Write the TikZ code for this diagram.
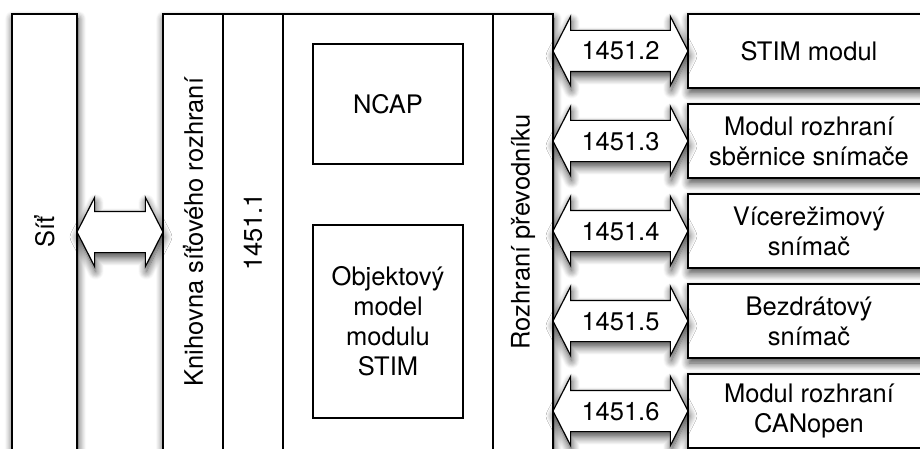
\documentclass[tikz,border=0pt]{standalone}
\usepackage{fontspec}
\setmainfont{TeX Gyre Heros}
\usetikzlibrary{shapes.arrows, positioning, calc, shadows.blur}

\begin{document}
\begin{tikzpicture}[
    x=1pt, y=1pt,
    font=\fontsize{25.5}{30}\selectfont,
    node distance=16pt and 0pt,
    box/.style={rectangle, draw, fill=white, line width=1.2pt, outer sep=0pt, inner sep=0pt, align=center},
    soft/.style={blur shadow={shadow xshift=1pt, shadow yshift=-5pt, shadow blur radius=8pt, shadow blur steps=10, shadow opacity=75}},
    tall/.style={box, minimum width=60pt, minimum height=436pt},
    dev/.style={box, soft, minimum width=242pt, minimum height=74pt},
    inbox/.style={box, minimum width=150pt},
    link/.style={double arrow, draw, fill=white, soft, line width=1.2pt, outer sep=0pt, inner sep=0pt, double arrow head extend=14pt, double arrow tip angle=126, text height=29pt, text depth=11pt}
]
\clip (0,0) rectangle (920,448);

\node [tall, soft, minimum width=65pt] (sit) at (44.5,216) {\rotatebox{90}{Síť}};
\node [tall, soft, minimum width=390pt] (panel) at (358,216) {};
\node [tall] (lib) at (193,216) {\rotatebox{90}{Knihovna síťového rozhraní}};
\node [tall, right=of lib] (std) {\rotatebox{90}{1451.1}};
\node [tall, right=of std, minimum width=210pt] (core) {};
\node [tall, right=of core] (tii) {\rotatebox{90}{Rozhraní převodníku}};
\node [inbox, minimum height=120pt] (ncap) at (388,344) {NCAP};
\node [inbox, minimum height=193pt] (obj) at (388,126.5) {Objektový\\model\\modulu\\STIM};

\node [dev] (dev1) at (809,397) {STIM modul};
\node [dev, below=of dev1] (dev2) {Modul rozhraní\\sběrnice snímače};
\node [dev, below=of dev2] (dev3) {Vícerežimový\\snímač};
\node [dev, below=of dev3] (dev4) {Bezdrátový\\snímač};
\node [dev, below=of dev4] (dev5) {Modul rozhraní\\CANopen};

\node [link, minimum height=86pt] (netlink) at ($(sit.east)!0.5!(lib.west)$) {};
\node [link, minimum height=135pt] (link1) at ($(tii.east |- dev1)!0.5!(dev1.west)$) {1451.2};
\node [link, minimum height=135pt] (link2) at ($(tii.east |- dev2)!0.5!(dev2.west)$) {1451.3};
\node [link, minimum height=135pt] (link3) at ($(tii.east |- dev3)!0.5!(dev3.west)$) {1451.4};
\node [link, minimum height=135pt] (link4) at ($(tii.east |- dev4)!0.5!(dev4.west)$) {1451.5};
\node [link, minimum height=135pt] (link5) at ($(tii.east |- dev5)!0.5!(dev5.west)$) {1451.6};

\end{tikzpicture}
\end{document}
